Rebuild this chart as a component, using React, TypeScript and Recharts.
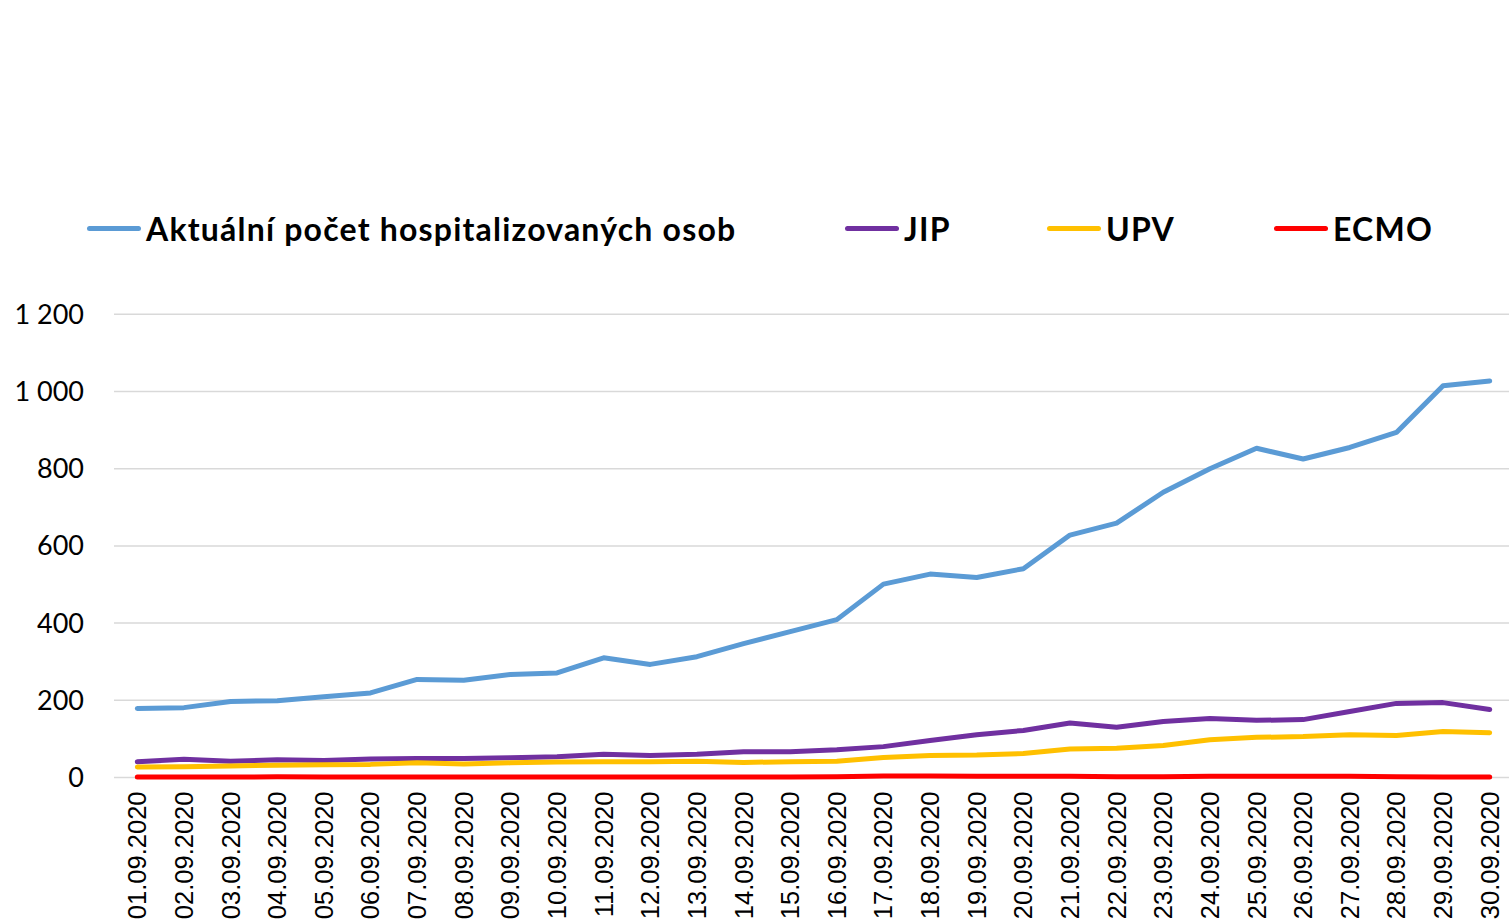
import React from 'react';
import { ComposedChart, Line, XAxis, YAxis, CartesianGrid, Legend } from 'recharts';

const dates = [
  '01.09.2020', '02.09.2020', '03.09.2020', '04.09.2020', '05.09.2020', '06.09.2020',
  '07.09.2020', '08.09.2020', '09.09.2020', '10.09.2020', '11.09.2020', '12.09.2020',
  '13.09.2020', '14.09.2020', '15.09.2020', '16.09.2020', '17.09.2020', '18.09.2020',
  '19.09.2020', '20.09.2020', '21.09.2020', '22.09.2020', '23.09.2020', '24.09.2020',
  '25.09.2020', '26.09.2020', '27.09.2020', '28.09.2020', '29.09.2020', '30.09.2020',
];
const hospitalized = [179, 181, 197, 199, 209, 219, 254, 252, 267, 271, 310, 293, 313, 347, 378, 409, 501, 527, 518, 541, 628, 659, 739, 800, 853, 825, 855, 894, 1015, 1027];
const jip = [41, 47, 42, 46, 44, 48, 49, 49, 51, 54, 60, 57, 60, 67, 67, 72, 80, 96, 111, 122, 141, 130, 145, 153, 148, 150, 171, 192, 194, 176];
const upv = [27, 28, 30, 32, 33, 34, 38, 35, 38, 40, 41, 41, 42, 39, 41, 42, 52, 57, 58, 62, 74, 76, 83, 98, 104, 106, 111, 109, 119, 116];
const ecmo = [1, 1, 1, 2, 1, 1, 1, 1, 1, 1, 1, 1, 1, 1, 1, 2, 4, 4, 3, 3, 3, 2, 2, 3, 3, 3, 3, 2, 1, 1];
const yTicks = [0, 200, 400, 600, 800, 1000, 1200];
const boundaryTicks = Array.from({ length: 31 }, (_, i) => i);

const series = [
  { key: 'hosp', name: 'Aktuální počet hospitalizovaných osob', color: '#5B9BD5', left: 87 },
  { key: 'jip', name: 'JIP', color: '#7030A0', left: 845 },
  { key: 'upv', name: 'UPV', color: '#FFC000', left: 1047 },
  { key: 'ecmo', name: 'ECMO', color: '#FF0000', left: 1274 },
];

const data = dates.map((d, i) => ({
  date: d,
  hosp: hospitalized[i],
  jip: jip[i],
  upv: upv[i],
  ecmo: ecmo[i],
}));

const fmt = (v: number) => String(v).replace(/\B(?=(\d{3})+(?!\d))/g, ' ');

const XTick = (props: any) => {
  const { x, y, payload } = props;
  return (
    <text
      x={x}
      y={y}
      transform={`rotate(-90 ${x} ${y})`}
      textAnchor="end"
      dominantBaseline="central"
      fontFamily="'Liberation Sans', Arial, sans-serif"
      fontSize={25.5}
      fill="#000"
    >
      {payload.value}
    </text>
  );
};

const LegendContent = () => (
  <div style={{ position: 'relative', width: 1509, height: 40 }}>
    {series.map((s) => (
      <div
        key={s.key}
        style={{ position: 'absolute', left: s.left, top: 0, height: 40, display: 'flex', alignItems: 'center' }}
      >
        <span style={{ display: 'inline-block', width: 54, height: 5, background: s.color, borderRadius: 3 }} />
        <span
          style={{
            marginLeft: 5,
            fontFamily: 'Lato, sans-serif',
            fontWeight: 700,
            fontSize: 32,
            letterSpacing: 1.2,
            color: '#000',
            whiteSpace: 'nowrap',
          }}
        >
          {s.name}
        </span>
      </div>
    ))}
  </div>
);

export default function App() {
  return (
    <div style={{ position: 'absolute', left: 0, top: 0, width: 1509, height: 919, overflow: 'hidden', background: '#fff' }}>
      <ComposedChart
        width={1513}
        height={919}
        data={data}
        margin={{ top: 274.3, right: 0, left: 0, bottom: 0 }}
      >
        <CartesianGrid xAxisId="cat" vertical={false} stroke="#D9D9D9" strokeWidth={1.5} />
        <XAxis
          xAxisId="grid"
          type="number"
          domain={[0, 30]}
          ticks={boundaryTicks}
          height={0}
          axisLine={false}
          tick={false}
          tickSize={8}
          tickLine={{ stroke: '#D9D9D9', strokeWidth: 1.5 }}
        />
        <XAxis
          xAxisId="cat"
          dataKey="date"
          scale="band"
          interval={0}
          height={141.5}
          axisLine={false}
          tickLine={false}
          tickSize={0}
          tickMargin={14}
          tick={<XTick />}
        />
        <YAxis
          width={114}
          domain={[0, 1200]}
          ticks={yTicks}
          axisLine={false}
          tickLine={false}
          tickSize={0}
          tickMargin={30}
          tickFormatter={fmt}
          tick={{ fontFamily: 'Lato, sans-serif', fontSize: 27, fill: '#000' }}
        />
        <Legend
          verticalAlign="top"
          content={<LegendContent />}
          wrapperStyle={{ position: 'absolute', top: 208, left: 0, width: 1509, height: 40 }}
        />
        {series.map((s) => (
          <Line
            key={s.key}
            xAxisId="cat"
            type="linear"
            dataKey={s.key}
            name={s.name}
            stroke={s.color}
            strokeWidth={5}
            strokeLinecap="round"
            strokeLinejoin="round"
            dot={false}
            activeDot={false}
            isAnimationActive={false}
          />
        ))}
      </ComposedChart>
    </div>
  );
}
